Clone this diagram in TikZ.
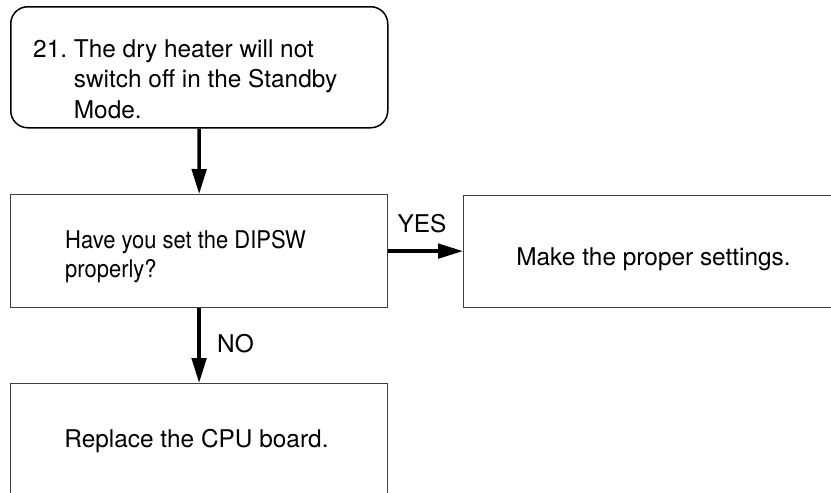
\documentclass[tikz,border=0pt]{standalone}
\usepackage{fontspec}
\setmainfont{TeX Gyre Heros}
\usetikzlibrary{arrows.meta}
\begin{document}
\begin{tikzpicture}[x=1pt,y=-1pt,
  box/.style={draw=black!75, line width=1.2pt, inner sep=0pt, anchor=north west},
  conn/.style={line width=3.5pt, -{Triangle[width=14.5pt,length=25pt]}},
  txt/.style={font=\fontsize{24.4}{29}\selectfont, inner sep=0pt}]
\useasboundingbox (0,0) rectangle (831,493);
\clip (0,0) rectangle (831,493);
% boxes
\node[box, draw=black, line width=1.5pt, rounded corners=17pt,
      minimum width=377pt, minimum height=121pt] (start) at (10,6) {};
\node[box, minimum width=377pt, minimum height=113pt] (q) at (10,194) {};
\node[box, minimum width=420pt, minimum height=112pt] (set) at (463,195) {};
\node[box, minimum width=377pt, minimum height=160pt] (cpu) at (10,383) {};
% texts
\node[txt, font=\fontsize{24.4}{30.5}\selectfont, anchor=base west] (t1) at (33,57)
  {21.\ \begin{tabular}[t]{@{}l@{}}The dry heater will not\\switch off in the Standby\\Mode.\end{tabular}};
\node[txt, anchor=base west] (t2) at (65,248)
  {\scalebox{0.9}[1]{\begin{tabular}[t]{@{}l@{}}Have you set the DIPSW\\properly?\end{tabular}}};
\node[txt, anchor=base] (t3) at (653.5,265) {Make the proper settings.};
\node[txt, anchor=base] (t4) at (196.5,447) {Replace the CPU board.};
% connectors
\draw[conn] (start) -- (q);
\draw[conn] (q.east) -- (q.east -| set.west);
\draw[conn] (q) -- (cpu);
% labels
\node[txt, anchor=base] (yes) at (422,232) {YES};
\node[txt, anchor=base west] (no) at (217,352) {NO};
\end{tikzpicture}
\end{document}
